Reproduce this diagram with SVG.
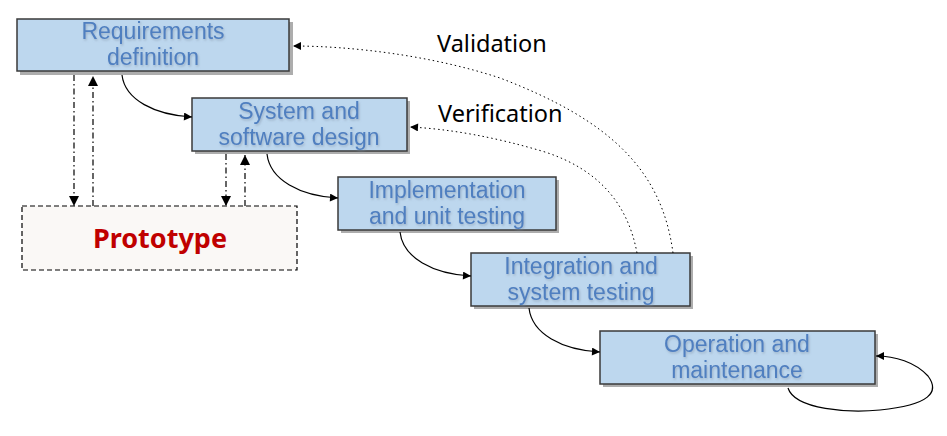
<svg xmlns="http://www.w3.org/2000/svg" width="947" height="436" viewBox="0 0 947 436">
<defs>
<style>
.box{fill:#bdd7ee;stroke:#3a3a3a;stroke-width:1.5}
.shadow{fill:#8a8a8a;opacity:0.7}
.nt{font-family:"Liberation Sans",Arial,sans-serif;font-size:23px;fill:#4f7fc0;text-anchor:middle;filter:url(#ts)}
.lbl{font-family:"Noto Sans","Open Sans",sans-serif;font-size:23.5px;fill:#000}
.flow{fill:none;stroke:#000;stroke-width:1.2}
.dot{fill:none;stroke:#000;stroke-width:1;stroke-dasharray:1.5 3}
.dd{fill:none;stroke:#000;stroke-width:1.2;stroke-dasharray:6 3 1.5 3}
</style>
<filter id="ts" x="-10%" y="-20%" width="120%" height="150%">
<feDropShadow dx="1" dy="1.5" stdDeviation="1" flood-color="#7a8aa0" flood-opacity="0.5"/>
</filter>
<marker id="ah" viewBox="0 0 10 10" refX="10" refY="5" markerWidth="10" markerHeight="8" markerUnits="userSpaceOnUse" orient="auto">
<path d="M0,0 L10,5 L0,10 z" fill="#000"/>
</marker>
<marker id="ahb" viewBox="0 0 10 10" refX="10" refY="5" markerWidth="14" markerHeight="10" markerUnits="userSpaceOnUse" orient="auto">
<path d="M0,0 L10,5 L0,10 z" fill="#000"/>
</marker>
</defs>
<rect width="947" height="436" fill="#fff"/>

<g id="prototype">
<rect x="22" y="206" width="275" height="64" fill="#faf8f6" stroke="#000" stroke-width="1.2" stroke-dasharray="5 3"/>
<text x="160" y="248" font-family="'Noto Sans','Open Sans',sans-serif" font-size="27" font-weight="bold" fill="#c00000" text-anchor="middle">Prototype</text>
</g>

<g id="requirements">
<rect class="shadow" x="20" y="22" width="273" height="53"/>
<rect class="box" x="17" y="19" width="272" height="52"/>
<text class="nt" x="153" y="39">Requirements</text>
<text class="nt" x="153" y="65">definition</text>
</g>

<g id="system-design">
<rect class="shadow" x="195" y="101" width="215" height="53"/>
<rect class="box" x="192" y="98" width="215" height="53"/>
<text class="nt" x="299" y="119">System and</text>
<text class="nt" x="299" y="145">software design</text>
</g>

<g id="implementation">
<rect class="shadow" x="341" y="180" width="218" height="53"/>
<rect class="box" x="338" y="177" width="218" height="53"/>
<text class="nt" x="447" y="198">Implementation</text>
<text class="nt" x="447" y="224">and unit testing</text>
</g>

<g id="integration">
<rect class="shadow" x="474" y="256" width="219" height="53"/>
<rect class="box" x="471" y="253" width="219" height="53"/>
<text class="nt" x="581" y="274">Integration and</text>
<text class="nt" x="581" y="300">system testing</text>
</g>

<g id="operation">
<rect class="shadow" x="603" y="334" width="275" height="53"/>
<rect class="box" x="600" y="331" width="275" height="53"/>
<text class="nt" x="737" y="352">Operation and</text>
<text class="nt" x="737" y="378">maintenance</text>
</g>

<g id="labels">
<text class="lbl" x="437" y="52">Validation</text>
<text class="lbl" x="438" y="122">Verification</text>
</g>

<g id="connectors">
<path class="flow" d="M122,75 C125,100 155,115 192,117" marker-end="url(#ah)"/>
<path class="flow" d="M267,154 C270,180 300,196 338,198" marker-end="url(#ah)"/>
<path class="flow" d="M400,232 C403,258 433,274 471,276" marker-end="url(#ah)"/>
<path class="flow" d="M529,308 C532,334 562,350 600,352" marker-end="url(#ah)"/>
<path class="flow" d="M788,388 C795,410 850,413 880,410 C930,405 940,392 928,376 C915,362 895,356 876,356" marker-end="url(#ah)"/>
<path class="dot" d="M673,253 C662,170 610,120 500,78 C430,55 350,46 293,46" marker-end="url(#ah)"/>
<path class="dot" d="M637,253 C628,205 600,170 545,152 C495,137 450,129 410,127" marker-end="url(#ah)"/>
<path class="dd" d="M74,75 L74,206" marker-end="url(#ahb)"/>
<path class="dd" d="M93,206 L93,76" marker-end="url(#ahb)"/>
<path class="dd" d="M226,154 L226,206" marker-end="url(#ahb)"/>
<path class="dd" d="M245,206 L245,155" marker-end="url(#ahb)"/>
</g>
</svg>
